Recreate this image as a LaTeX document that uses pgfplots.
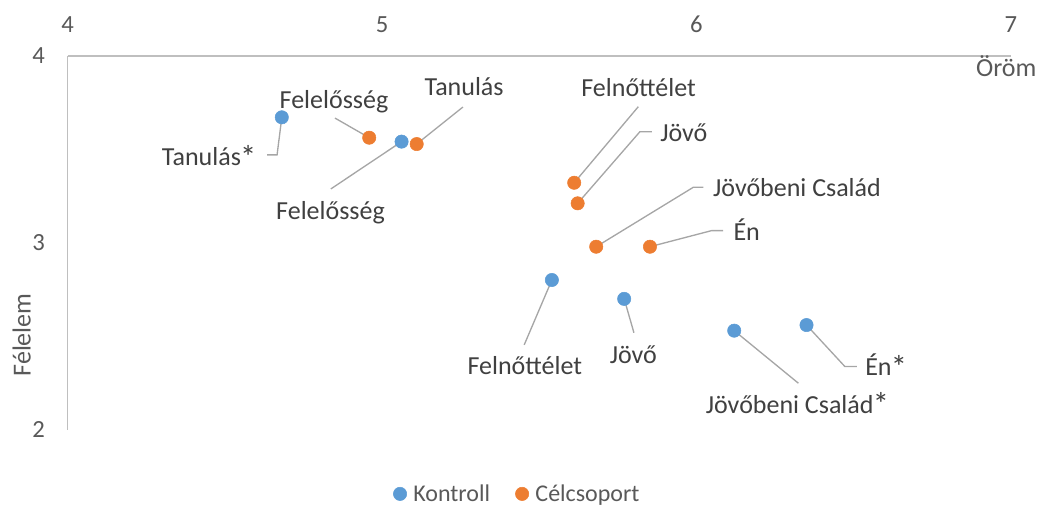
\documentclass[border=0pt]{standalone}
\usepackage{graphicx}
\usepackage{pgfplots}
\pgfplotsset{compat=1.18}
\usepackage{pgfplotstable}
\usepackage{fontspec}
\setmainfont{Carlito}

\definecolor{kontroll}{HTML}{5B9BD5}
\definecolor{celcsop}{HTML}{ED7D31}
\definecolor{axisgray}{HTML}{BFBFBF}
\definecolor{leadgray}{HTML}{A6A6A6}
\definecolor{labgray}{HTML}{404040}
\definecolor{tickgray}{HTML}{595959}

\newcommand{\csillag}{\kern-0.03em\raisebox{-0.1em}{\scalebox{1.25}{*}}}

% Oröm (x), Félelem (y)
\pgfplotstableread{
x y
4.681 3.672
5.062 3.542
5.540 2.802
5.770 2.701
6.120 2.531
6.350 2.561
}\kontroll
\pgfplotstableread{
x y
4.959 3.563
5.110 3.529
5.611 3.322
5.622 3.212
5.681 2.980
5.852 2.980
}\celcsoport

\begin{document}
\begin{tikzpicture}[
  lbl/.style={font=\fontsize{19.5}{23}\selectfont, text=labgray, inner sep=0pt},
  lead/.style={draw=leadgray, line width=1pt}]
\begin{axis}[
  scale only axis, width=707.5pt, height=280.5pt,
  xmin=4, xmax=7, ymin=2, ymax=4,
  xtick={4,5,6,7}, ytick={2,3,4},
  axis x line*=top, axis y line*=left,
  axis line style={draw=axisgray, line width=0.9pt},
  major tick length=0pt,
  clip=false,
  /pgf/number format/assume math mode=true,
  ticklabel style={font=\fontsize{18.5}{22}\selectfont, text=tickgray, inner sep=0pt},
  xticklabel style={anchor=base, yshift=17.8pt},
  yticklabel style={anchor=east, xshift=-17pt},
  legend columns=2,
  legend style={draw=none, fill=none, at={(0.4758,-0.171)}, anchor=center,
    font=\fontsize{18}{22}\selectfont, text=tickgray,
    nodes={inner sep=0pt},
    /tikz/every odd column/.append style={column sep=5pt},
    /tikz/every even column/.append style={column sep=19pt}},
  legend image code/.code={\draw[#1] plot coordinates {(0pt,0pt)};},
]
\addplot[only marks, mark=*, mark size=5pt, color=kontroll] table {\kontroll};
\addlegendentry{Kontroll}
\addplot[only marks, mark=*, mark size=5pt, color=celcsop] table {\celcsoport};
\addlegendentry{Célcsoport}

% Célcsoport labels
\draw[lead] (axis cs:4.850,3.668) -- (axis cs:4.959,3.563);
\node[lbl, anchor=base] at (axis cs:4.847,3.720) {Felelősség};
\draw[lead] (axis cs:5.257,3.727) -- (axis cs:5.110,3.529);
\node[lbl, anchor=base] at (axis cs:5.261,3.788) {Tanulás};
\draw[lead] (axis cs:5.815,3.729) -- (axis cs:5.611,3.322);
\node[lbl, anchor=base] at (axis cs:5.816,3.782) {Felnőttélet};
\draw[lead] (axis cs:5.858,3.595) -- (axis cs:5.820,3.595) -- (axis cs:5.622,3.212);
\node[lbl, anchor=base west] at (axis cs:5.884,3.542) {Jövő};
\draw[lead] (axis cs:6.022,3.298) -- (axis cs:5.990,3.298) -- (axis cs:5.681,2.980);
\node[lbl, anchor=base west] at (axis cs:6.052,3.248) {Jövőbeni Család};
\draw[lead] (axis cs:6.085,3.066) -- (axis cs:6.048,3.066) -- (axis cs:5.852,2.980);
\node[lbl, anchor=base west] at (axis cs:6.117,3.012) {Én};

% Kontroll labels
\draw[lead] (axis cs:4.634,3.471) -- (axis cs:4.666,3.471) -- (axis cs:4.681,3.672);
\node[lbl, anchor=base east] at (axis cs:4.601,3.413) {Tanulás\csillag};
\draw[lead] (axis cs:4.837,3.289) -- (axis cs:5.062,3.542);
\node[lbl, anchor=base] at (axis cs:4.836,3.123) {Felelősség};
\draw[lead] (axis cs:5.452,2.455) -- (axis cs:5.540,2.802);
\node[lbl, anchor=base] at (axis cs:5.454,2.294) {Felnőttélet};
\draw[lead] (axis cs:5.801,2.520) -- (axis cs:5.770,2.701);
\node[lbl, anchor=base] at (axis cs:5.799,2.357) {Jövő};
\draw[lead] (axis cs:6.324,2.250) -- (axis cs:6.120,2.531);
\node[lbl, anchor=base] at (axis cs:6.321,2.089) {Jövőbeni Család\csillag};
\draw[lead] (axis cs:6.510,2.339) -- (axis cs:6.472,2.339) -- (axis cs:6.350,2.561);
\node[lbl, anchor=base west] at (axis cs:6.536,2.290) {Én\csillag};

% axis titles
\node[lbl, text=tickgray, anchor=base east] at (axis cs:7.082,3.889) {Öröm};
\node[lbl, text=tickgray, rotate=90, anchor=base] at (axis cs:3.882,2.508) {Félelem};

\path (axis cs:3.7847,1.5989) rectangle (axis cs:7.0926,4.2995);
\end{axis}
\end{tikzpicture}
\end{document}
